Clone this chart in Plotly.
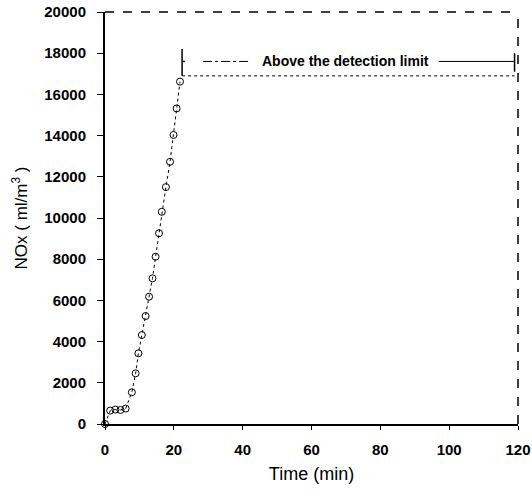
import plotly.graph_objects as go

# Data
time_min = [0, 1.5, 3, 4.5, 6, 7.8, 8.9, 9.7, 10.7, 11.8, 12.8, 13.8, 14.7, 15.7, 16.5,
            17.7, 18.9, 19.9, 20.8, 21.8]
nox = [0, 650, 700, 680, 750, 1540, 2460, 3430, 4320, 5240, 6180, 7070, 8120, 9260, 10300,
       11500, 12730, 14030, 15320, 16620]

x_ticks = [0, 20, 40, 60, 80, 100, 120]
x_ticktext = ["0", "20", "40", "60", "80", "100", "120"]
y_ticks = [0, 2000, 4000, 6000, 8000, 10000, 12000, 14000, 16000, 18000, 20000]
y_ticktext = ["0", "2000", "4000", "6000", "8000", "10000", "12000", "14000",
              "16000", "18000", "20000"]

detect_start = 22.4
detect_end = 119
detect_level = 16900
arrow_level = 17600
annot_text = "Above the detection limit"

FONT = "Liberation Sans, Arial, sans-serif"

fig = go.Figure()
fig.add_trace(go.Scatter(
    x=time_min, y=nox, mode="lines+markers",
    line=dict(color="black", width=1, dash="dot"),
    marker=dict(symbol="circle-open", size=7, color="black", line=dict(width=1)),
    cliponaxis=False, showlegend=False,
))

shapes = [
    dict(type="line", xref="x", yref="y", x0=detect_start, x1=detect_end,
         y0=detect_level, y1=detect_level, line=dict(color="black", width=1, dash="dot")),
    dict(type="line", xref="x", yref="y", x0=detect_start, x1=detect_start,
         y0=detect_level, y1=18200, line=dict(color="black", width=1.5)),
    dict(type="line", xref="x", yref="y", x0=detect_start, x1=detect_start + 0.8,
         y0=arrow_level, y1=arrow_level, line=dict(color="black", width=1.5)),
    dict(type="line", xref="x", yref="y", x0=28.5, x1=42, y0=arrow_level, y1=arrow_level,
         line=dict(color="black", width=1, dash="dashdot")),
    dict(type="line", xref="x", yref="y", x0=97, x1=detect_end, y0=arrow_level, y1=arrow_level,
         line=dict(color="black", width=1)),
    dict(type="line", xref="x", yref="y", x0=detect_end, x1=detect_end,
         y0=17100, y1=18000, line=dict(color="black", width=1.5)),
    dict(type="line", xref="paper", yref="paper", x0=0, x1=1, y0=1, y1=1,
         line=dict(color="black", width=1.5, dash="dash")),
    dict(type="line", xref="paper", yref="paper", x0=1, x1=1, y0=0, y1=1,
         line=dict(color="black", width=1.5, dash="dash")),
]

fig.update_layout(
    width=532, height=495,
    margin=dict(l=105, r=14, t=12, b=71, autoexpand=False),
    paper_bgcolor="white", plot_bgcolor="white",
    font=dict(family=FONT, color="black"),
    shapes=shapes,
    annotations=[dict(x=70, y=arrow_level, xref="x", yref="y", text=annot_text,
                      showarrow=False, font=dict(size=14, family=FONT, weight="bold"),
                      bgcolor="white")],
    xaxis=dict(range=[0, 120], tickvals=x_ticks, ticktext=x_ticktext,
               showgrid=False, zeroline=False, automargin=False,
               showline=True, linecolor="black", linewidth=2,
               ticks="outside", ticklen=4, tickcolor="black",
               ticklabeloverflow="allow", ticklabelstandoff=7,
               tickfont=dict(size=15, family=FONT, weight="bold"),
               title=dict(text="Time (min)", font=dict(size=18, family=FONT), standoff=10)),
    yaxis=dict(range=[0, 20000], tickvals=y_ticks, ticktext=y_ticktext,
               showgrid=False, zeroline=False, automargin=False,
               showline=True, linecolor="black", linewidth=2,
               ticks="outside", ticklen=6, tickcolor="black",
               ticklabeloverflow="allow", ticklabelstandoff=8,
               tickfont=dict(size=15, family=FONT, weight="bold"),
               title=dict(text="NOx ( ml/m<sup>3</sup> )", font=dict(size=17, family=FONT),
                          standoff=12)),
)

fig.write_html("out.html",
               config={"displayModeBar": False},
               post_script="document.body.style.margin='0';document.body.style.overflow='hidden';")
